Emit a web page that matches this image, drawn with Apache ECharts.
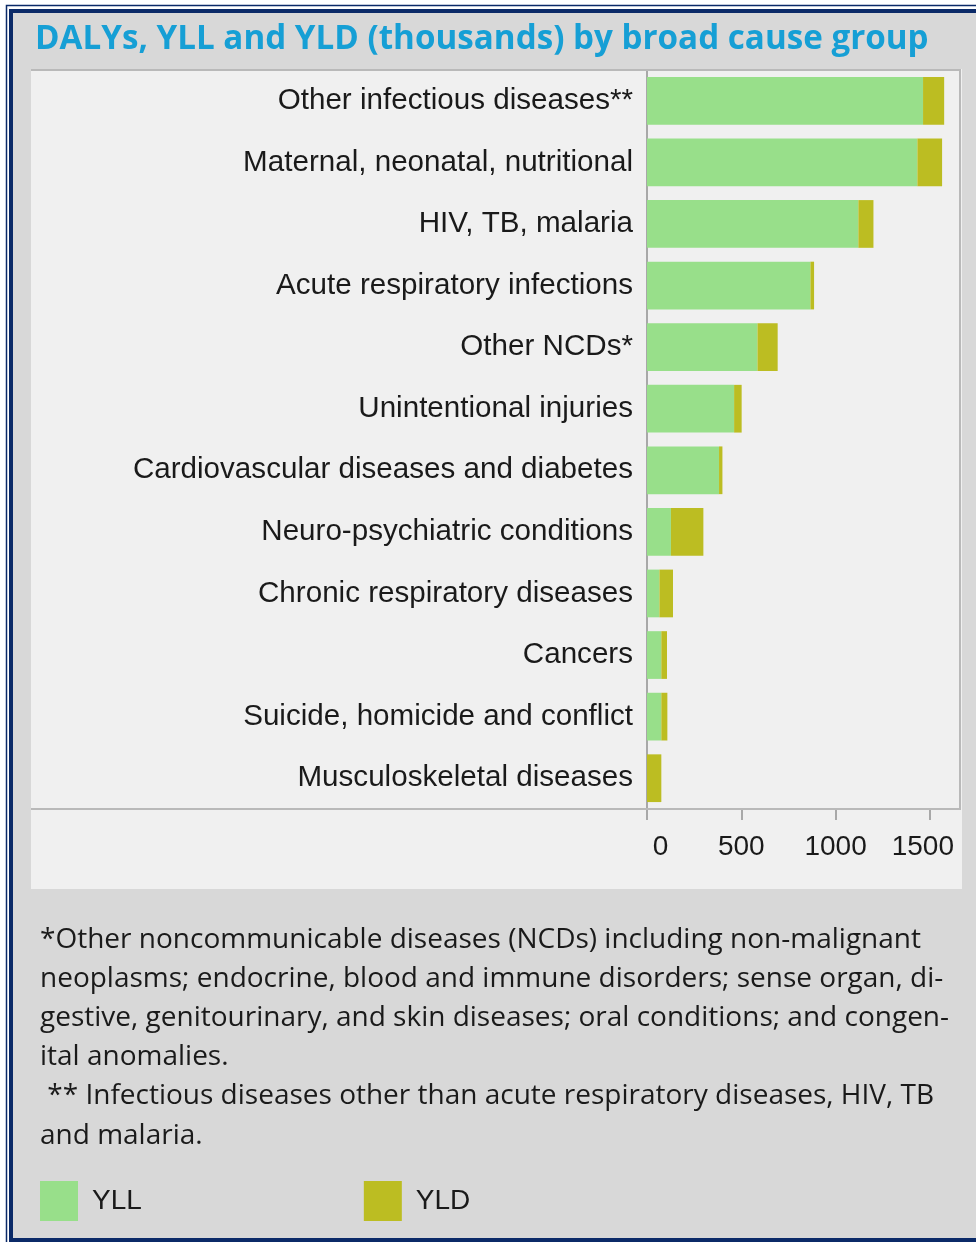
<!DOCTYPE html>
<html>
<head>
<meta charset="utf-8">
<script src="https://cdn.jsdelivr.net/npm/echarts@6/dist/echarts.min.js"></script>
<style>
html,body{margin:0;padding:0;background:#ffffff;}
#chart{width:976px;height:1242px;}
</style>
</head>
<body>
<div id="chart"></div>
<script>
// ---- data ----
const categories = [
  "Other infectious diseases**",
  "Maternal, neonatal, nutritional",
  "HIV, TB, malaria",
  "Acute respiratory infections",
  "Other NCDs*",
  "Unintentional injuries",
  "Cardiovascular diseases and diabetes",
  "Neuro-psychiatric conditions",
  "Chronic respiratory diseases",
  "Cancers",
  "Suicide, homicide and conflict",
  "Musculoskeletal diseases"
];
const yllValues = [1464, 1434, 1121, 867, 586, 462, 382, 127, 66, 76, 76, 0];
const yldValues = [112, 131, 80, 19, 107, 40, 18, 172, 72, 30, 32, 76];
const xTicks = [0, 500, 1000, 1500];
const xTickLabels = ["0", "500", "1000", "1500"];
const seriesNames = ["YLL", "YLD"];
const titleText = "DALYs, YLL and YLD (thousands) by broad cause group";
const footnoteLines = [
  "*Other noncommunicable diseases (NCDs) including non-malignant",
  "neoplasms; endocrine, blood and immune disorders; sense organ, di-",
  "gestive, genitourinary, and skin diseases; oral conditions; and congen-",
  "ital anomalies.",
  " ** Infectious diseases other than acute respiratory diseases, HIV, TB",
  "and malaria."
];

const chart = echarts.init(document.getElementById('chart'), null, {renderer: 'canvas'});
const navy = '#0b2a68';
const frameGray = '#b9b9b9';
const armFont = 'Arial, "Liberation Sans", sans-serif';

const option = {
  animation: false,
  backgroundColor: '#ffffff',
  title: {
    text: titleText,
    left: 35,
    top: 23,
    padding: 0,
    textStyle: {
      fontFamily: '"Open Sans"',
      fontWeight: 'bold',
      fontSize: 33.2,
      color: '#169fd5'
    }
  },
  legend: {
    data: seriesNames,
    left: 40,
    top: 1181,
    padding: 0,
    icon: 'rect',
    itemWidth: 38,
    itemHeight: 40,
    itemGap: 222,
    textStyle: {
      fontFamily: armFont,
      fontSize: 28,
      color: '#1a1a1a',
      padding: [0, 0, 0, 9]
    }
  },
  grid: {
    left: 647,
    right: 16,
    top: 70,
    bottom: 433,
    containLabel: false,
    outerBoundsMode: 'none'
  },
  xAxis: {
    type: 'value',
    min: 0,
    max: 1660,
    interval: 500,
    axisLine: {show: false},
    splitLine: {show: false},
    axisTick: {
      show: true,
      length: 11,
      customValues: xTicks,
      lineStyle: {color: '#a8a8a8', width: 2}
    },
    axisLabel: {
      customValues: xTicks,
      margin: 24,
      fontFamily: armFont,
      fontSize: 28,
      color: '#1a1a1a',
      formatter: function (v) {
        const i = xTicks.indexOf(v);
        const s = i >= 0 ? xTickLabels[i] : String(v);
        if (i === 0) return '{first|' + s + '}';
        if (i === xTicks.length - 1) return '{last|' + s + '}';
        return s;
      },
      rich: {
        first: {padding: [0, 0, 0, 27], fontFamily: armFont, fontSize: 28, color: '#1a1a1a'},
        last: {padding: [0, 14, 0, 0], fontFamily: armFont, fontSize: 28, color: '#1a1a1a'}
      }
    }
  },
  yAxis: {
    type: 'category',
    data: categories,
    inverse: true,
    axisLine: {show: true, lineStyle: {color: '#a8a8a8', width: 2}},
    axisTick: {show: false},
    splitLine: {show: false},
    axisLabel: {
      margin: 14,
      fontFamily: armFont,
      fontSize: 29.6,
      color: '#1a1a1a'
    }
  },
  series: [
    {
      name: seriesNames[0],
      type: 'bar',
      stack: 'total',
      data: yllValues,
      barCategoryGap: '22.5%',
      itemStyle: {color: '#98df8a'}
    },
    {
      name: seriesNames[1],
      type: 'bar',
      stack: 'total',
      data: yldValues,
      barCategoryGap: '22.5%',
      itemStyle: {color: '#bcbd22'}
    }
  ],
  graphic: [
    {type: 'rect', z: -10, silent: true, shape: {x: 6.5, y: 5.5, width: 1000, height: 1240}, style: {fill: 'none', stroke: navy, lineWidth: 1.5}},
    {type: 'rect', z: -10, silent: true, shape: {x: 11, y: 11, width: 1000, height: 1229}, style: {fill: '#d8d8d8', stroke: navy, lineWidth: 4}},
    {type: 'rect', z: -9, silent: true, shape: {x: 31, y: 69, width: 931, height: 820}, style: {fill: '#f0f0f0'}},
    {type: 'polyline', z: 5, silent: true, shape: {points: [[31, 70], [960, 70], [960, 809], [31, 809]]}, style: {fill: 'none', stroke: frameGray, lineWidth: 2}},
    {
      type: 'text', silent: true, left: 40, top: 920,
      style: {
        text: footnoteLines.join('\n'),
        fontFamily: '"Open Sans"',
        fontSize: 28,
        lineHeight: 39.2,
        fill: '#1a1a1a'
      }
    }
  ]
};
chart.setOption(option);
</script>
</body>
</html>
